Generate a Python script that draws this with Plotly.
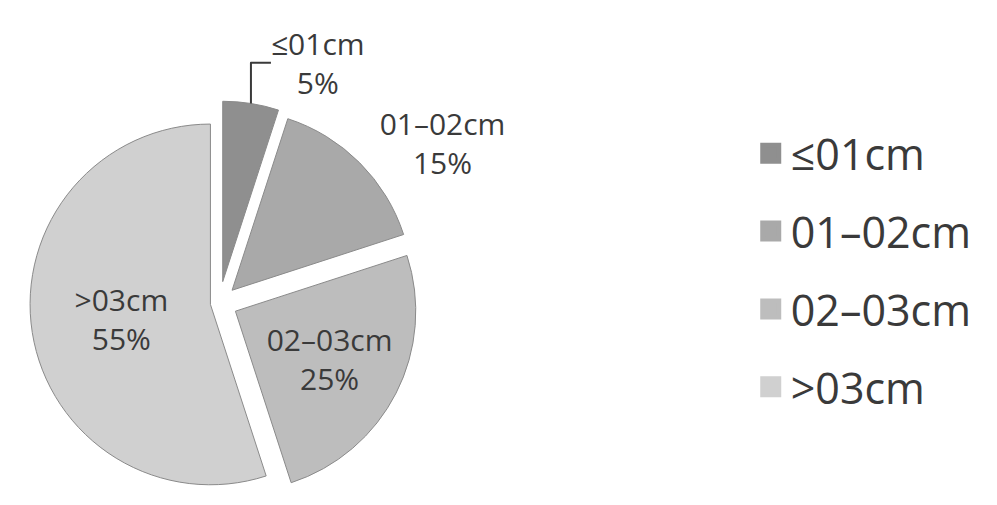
import plotly.graph_objects as go

categories = ["≤01cm", "01–02cm", "02–03cm", ">03cm"]
values = [5, 15, 25, 55]
colors = ["#8f8f8f", "#a9a9a9", "#bdbdbd", "#d0d0d0"]
pulls = [0.12, 0.1, 0.1, 0.05]
text_positions = ["outside", "outside", "inside", "inside"]

fig = go.Figure()
fig.add_trace(go.Pie(
    labels=categories,
    values=values,
    sort=False,
    direction="clockwise",
    rotation=0,
    pull=pulls,
    marker=dict(colors=colors, line=dict(color="#8a8a8a", width=1)),
    texttemplate="%{label}<br>%{percent:.0%}",
    textposition=text_positions,
    insidetextorientation="horizontal",
    textfont=dict(family="Open Sans", size=30, color="#3a3a3a"),
    outsidetextfont=dict(family="Open Sans", size=30, color="#3a3a3a"),
    domain=dict(x=[0.0, 0.44], y=[0.0, 0.8]),
    automargin=False,
    showlegend=False,
    hoverinfo="skip",
))

for i, (cat, col) in enumerate(zip(categories, colors)):
    fig.add_trace(go.Scatter(
        x=[None], y=[None], mode="markers", name=cat,
        marker=dict(symbol="square", size=16, color=col, line=dict(color=col, width=5)),
        legendgroup=f"g{i}", showlegend=True,
    ))

fig.update_layout(
    width=997, height=505,
    margin=dict(l=0, r=0, t=0, b=0, autoexpand=False),
    paper_bgcolor="white", plot_bgcolor="white",
    xaxis=dict(visible=False), yaxis=dict(visible=False),
    legend=dict(
        x=0.753, y=0.465, xanchor="left", yanchor="middle",
        font=dict(family="Open Sans", size=43, color="#3a3a3a"),
        tracegroupgap=19, itemsizing="trace",
        bgcolor="rgba(0,0,0,0)",
    ),
    font=dict(family="Open Sans"),
)

fig.write_html("out.html")
